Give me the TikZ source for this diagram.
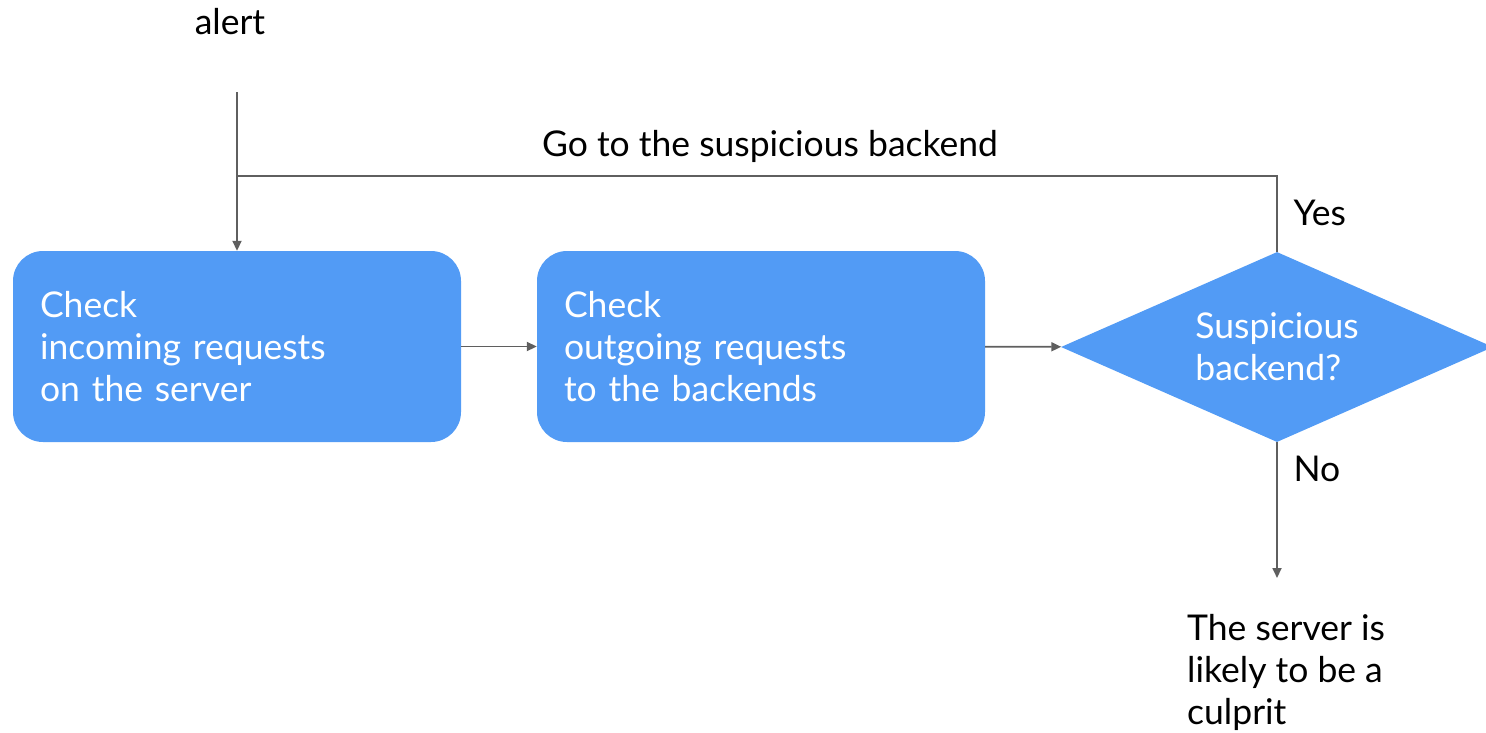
\documentclass[tikz,border=0pt]{standalone}
\usepackage{fontspec}
\setmainfont{Lato}
\usetikzlibrary{shapes.geometric,arrows.meta}
\definecolor{boxblue}{RGB}{82,155,245}
\definecolor{linegray}{RGB}{95,95,95}

\begin{document}
\begin{tikzpicture}[x=1pt,y=-1pt,
    every node/.style={font=\fontsize{35.5}{42}\selectfont},
    stepbox/.style={fill=boxblue,rounded corners=30pt,text=white,align=left,
      minimum width=448pt,minimum height=191pt,text width=394pt,inner xsep=27pt},
    decision/.style={diamond,fill=boxblue,text=white,align=left,inner sep=0pt,
      aspect=2.27,minimum width=432pt,minimum height=190pt},
    line/.style={draw=linegray,line width=1.8pt},
    flow/.style={line,-{Triangle[length=10pt,width=9pt]}}]
    \useasboundingbox (0,0) rectangle (1486,732);

    % Boxes
    \node[stepbox] (incoming) at (237,346.5) {Check\\incoming requests\\on the server};
    \node[stepbox] (outgoing) at (761,346.5) {Check\\outgoing requests\\to the backends};
    \node[decision] (suspicious) at (1277,347) {Suspicious\\backend?\hspace*{10pt}};

    % Labels
    \node (alert) at (230,22) {alert};
    \node (goto) at (770,146) {Go to the suspicious backend};
    \node[anchor=west] (yes) at (1290,213) {Yes};
    \node[anchor=west] (no) at (1290,469) {No};
    \node[anchor=north west,align=left,inner sep=0pt] (culprit) at (1187,614)
      {The server is\\likely to be a\\culprit};

    \coordinate (start) at (237,92);
    \coordinate (join) at (237,176);
    \coordinate (turn) at (1277,176);
    \coordinate (down) at (1277,578);

    % Connectors
    \draw[flow] (start) -- (incoming.north);
    \draw[line] (suspicious.north) -- (turn) -- (join);
    \draw[flow] (incoming) -- (outgoing);
    \draw[flow] (outgoing) -- (suspicious);
    \draw[flow] (suspicious.south) -- (down);
\end{tikzpicture}
\end{document}
